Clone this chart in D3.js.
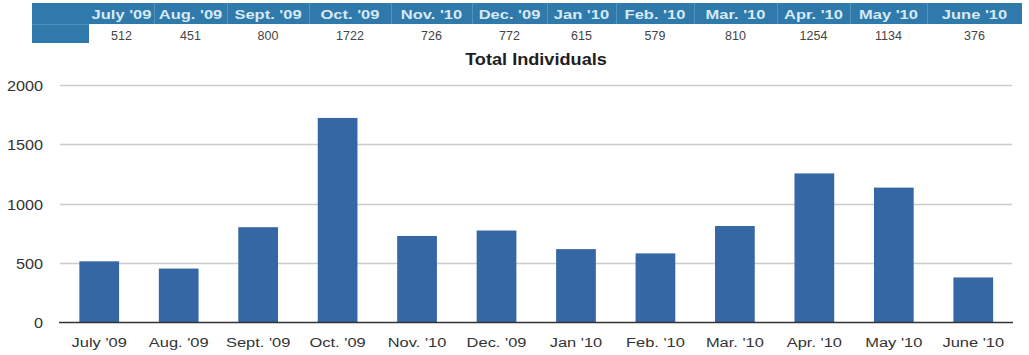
<!DOCTYPE html>
<html><head><meta charset="utf-8">
<script src="https://cdn.jsdelivr.net/npm/d3@7"></script>
<style>
body{margin:0;background:#fff;}
svg{display:block;font-family:"Liberation Sans",Arial,Helvetica,sans-serif;}
</style></head>
<body><svg id="c" width="1029" height="355"></svg>
<script>
const categories = ["July '09","Aug. '09","Sept. '09","Oct. '09","Nov. '10","Dec. '09","Jan '10","Feb. '10","Mar. '10","Apr. '10","May '10","June '10"];
const values = [512,451,800,1722,726,772,615,579,810,1254,1134,376];
const yTicks = [0,500,1000,1500,2000];
const title = "Total Individuals";

// layout (table column edges, pixels)
const colEdges = [89,154,227,309,391,472,547,616,694,777,850,927,1022];

const svg = d3.select("#c");

// table
const tbl = svg.append("g");
const headTop=3, headBot=24, rowBot=43;
tbl.append("rect").attr("x",32).attr("y",headTop).attr("width",1022-32).attr("height",headBot-headTop).attr("fill","#2f7aab");
tbl.append("rect").attr("x",32).attr("y",headBot).attr("width",89-32).attr("height",rowBot-headBot).attr("fill","#2f7aab");
tbl.append("line").attr("x1",32).attr("x2",89).attr("y1",headBot+0.5).attr("y2",headBot+0.5).attr("stroke","#4a90bb").attr("stroke-width",1);
categories.forEach((c,i)=>{
  const x0=colEdges[i], x1=colEdges[i+1], cx=(x0+x1)/2;
  if(i>0) tbl.append("line").attr("x1",x0+0.5).attr("x2",x0+0.5).attr("y1",headTop).attr("y2",headBot).attr("stroke","#4f94bf").attr("stroke-width",1);
  tbl.append("text").attr("transform",`translate(${cx},19) scale(1.25,1)`).attr("text-anchor","middle").attr("font-size",13.2).attr("font-weight","bold").attr("fill","#d6eaf4").text(c);
  tbl.append("text").attr("x",cx).attr("y",40).attr("text-anchor","middle").attr("font-size",12.5).attr("fill","#444").text(values[i]);
});

// title
svg.append("text").attr("transform","translate(536,65) scale(1.1,1)").attr("text-anchor","middle").attr("font-size",16.5).attr("font-weight","bold").attr("fill","#1e1e1e").text(title);

// chart
const x = d3.scaleBand().domain(categories).range([59.5,1013]).paddingInner(0.5).paddingOuter(0.25);
const y = d3.scaleLinear().domain([0,2000]).range([322,85]);

const grid = svg.append("g");
grid.selectAll("line").data(yTicks.filter(d=>d>0)).join("line")
  .attr("x1",60).attr("x2",1012).attr("y1",d=>Math.round(y(d))+0.5).attr("y2",d=>Math.round(y(d))+0.5)
  .attr("stroke","#cccccc").attr("stroke-width",1.5);

const yAxis = svg.append("g").attr("transform","translate(43,0)")
  .call(d3.axisLeft(y).tickValues(yTicks).tickSize(0).tickPadding(0).tickFormat(d3.format("d")));
yAxis.select(".domain").remove();
yAxis.selectAll("text").attr("font-size",14).attr("transform","scale(1.16,1)").attr("dy","0.4em").attr("fill","#333").attr("font-family","Liberation Sans,Arial,sans-serif");

svg.append("g").selectAll("rect").data(values).join("rect")
  .attr("x",(d,i)=>x(categories[i])).attr("width",x.bandwidth())
  .attr("y",d=>y(d)).attr("height",d=>y(0)-y(d))
  .attr("fill","#3667a5");

svg.append("line").attr("x1",59).attr("x2",1013).attr("y1",322.5).attr("y2",322.5).attr("stroke","#333").attr("stroke-width",1.5);

const xAxis = svg.append("g").attr("transform","translate(0,322)")
  .call(d3.axisBottom(x).tickSize(0).tickPadding(15));
xAxis.select(".domain").remove();
xAxis.selectAll("text").attr("font-size",13.5).attr("transform","scale(1.22,1)").attr("fill","#333").attr("font-family","Liberation Sans,Arial,sans-serif");
</script></body></html>
